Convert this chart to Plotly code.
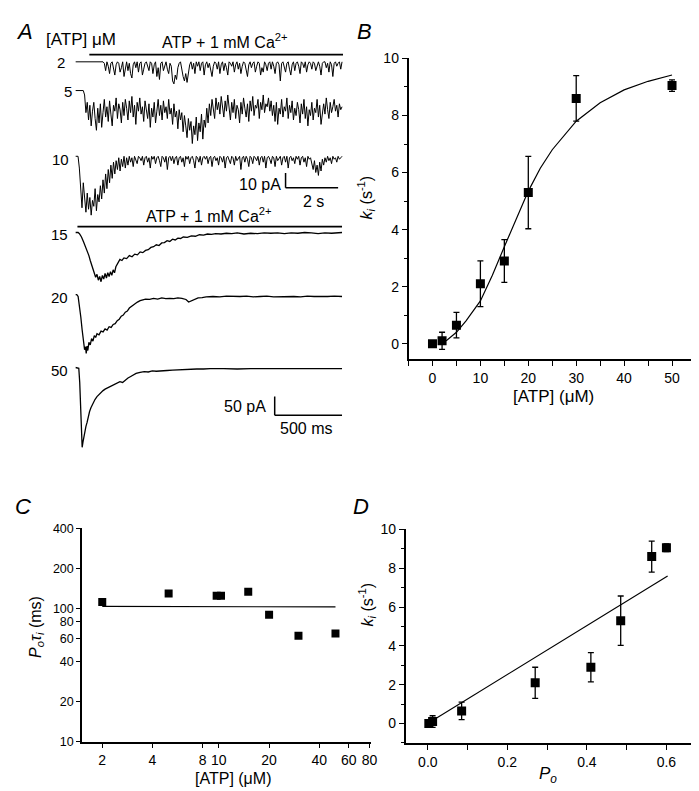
import numpy as np
import plotly.graph_objects as go

W, H = 699, 791
FONT = "Liberation Sans, Arial, sans-serif"

# ---------------- data ----------------
# Panel B / D : inactivation rate vs [ATP] and vs Po
atp = [0, 2, 5, 10, 15, 20, 30, 50]
ki = [0.0, 0.1, 0.65, 2.1, 2.9, 5.3, 8.6, 9.05]
ki_err = [0.05, 0.3, 0.45, 0.8, 0.75, 1.27, 0.8, 0.2]
fit_atp = [2, 3, 5, 7, 10, 12.5, 15, 17.5, 20, 22.5, 25, 30, 35, 40, 45, 50]
fit_ki = [0.05, 0.12, 0.4, 0.8, 1.5, 2.4, 3.4, 4.4, 5.35, 6.15, 6.8, 7.8, 8.45, 8.9, 9.2, 9.42]
po = [0.0025, 0.012, 0.085, 0.27, 0.41, 0.485, 0.563, 0.60]
lin_po = [0.013, 0.603]
lin_ki = [0.17, 7.6]

# Panel C : Po*tau_i vs [ATP]
c_atp = [2, 5, 9.7, 10.3, 15, 20, 30, 50]
c_potau = [112, 130, 125, 125, 134, 90, 62.5, 65]
c_line_atp = [2, 50]
c_line_val = [104, 103]

b_xticks = [0, 10, 20, 30, 40, 50]
c_xticks = [2, 4, 8, 10, 20, 40, 60, 80]
c_yticks = [10, 20, 40, 60, 80, 100, 200, 400]

# Panel A : current traces (pA), top traces sampled every 0.05 s
dt_top = 0.05
trace2 = [0, 0, 0, 0, 0, 0, 0, 0, 0, 0,
          0, 0, 0, 0, 0, 0, 0, 0, 0, 0,
          0, 0, -1, -6, 0, -3, -8, -1, 0, -5,
          -9, -2, 0, -1, -7, -4, 0, -10, -3, 0,
          -6, -1, -8, -11, -2, 0, -4, 0, -7, -1,
          0, -9, -5, -1, 0, -3, -6, 0, -1, -8,
          -2, 0, -10, -4, -12, -1, 0, -6, -2, 0,
          -5, -8, -1, -3, -13, -15, -9, -12, -4, -1,
          0, -7, -10, -13, -8, -14, -6, -2, 0, -5,
          -1, -8, 0, -3, 0, -6, -1, 0, -9, -2,
          0, -4, -1, -7, -10, -3, 0, -1, -5, 0,
          -8, -2, 0, -6, -1, -4, -9, 0, -1, -3,
          0, -7, -2, 0, -5, -1, -8, -3, 0, -1,
          -6, -10, -2, 0, -4, -1, 0, -7, -3, 0,
          -1, -9, -4, -7, 0, -2, -6, -1, 0, -5,
          0, -3, -8, -1, 0, -2, -13, -1, 0, -4,
          -7, -1, 0, -5, -9, -2, 0, -6, -1, 0,
          -3, -8, 0, -1, -4, 0, -7, -2, 0, -1,
          -5, 0, -1, -6, -2, 0, -3, -9, -1, 0,
          0, -4, -1, -7, 0, -2, -10, -1, 0, -3,
          -1, 0, -5, 0]
trace5 = [0, 0, 0, 0, 0, 0, 0, -3, -15, -8,
          -20, -10, -24, -14, -8, -19, -27, -12, -22, -9,
          -25, -15, -6, -18, -11, -21, -7, -16, -24, -10,
          -14, -5, -19, -9, -13, -22, -8, -17, -6, -12,
          -20, -7, -15, -4, -18, -10, -23, -8, -14, -5,
          -16, -11, -21, -7, -13, -19, -9, -25, -12, -18,
          -8, -22, -14, -6, -17, -10, -20, -7, -15, -11,
          -19, -6, -16, -12, -23, -9, -18, -14, -26, -13,
          -20, -15, -28, -17, -24, -32, -19, -27, -21, -36,
          -24, -30, -18, -34, -22, -28, -16, -33, -20, -25,
          -12, -22, -9, -17, -6, -14, -19, -5, -13, -8,
          -16, -4, -11, -18, -7, -14, -3, -12, -20, -8,
          -15, -6, -19, -10, -13, -22, -8, -16, -5, -12,
          -18, -9, -21, -7, -14, -4, -17, -10, -12, -6,
          -19, -8, -13, -3, -15, -9, -11, -5, -14, -7,
          -17, -10, -21, -8, -23, -12, -16, -6, -18, -11,
          -14, -5, -19, -10, -15, -7, -20, -12, -17, -8,
          -13, -22, -9, -16, -6, -19, -11, -24, -13, -17,
          -8, -20, -12, -15, -6, -18, -10, -23, -14, -9,
          -16, -5, -13, -19, -8, -15, -11, -6, -14, -10,
          -18, -9, -13, -11]
trace10 = [0, 0, 0, -8, -22, -35, -18, -30, -38, -25,
           -36, -28, -40, -30, -34, -22, -37, -26, -31, -20,
           -29, -16, -25, -12, -22, -9, -18, -6, -15, -4,
           -12, -3, -9, -1, -10, -2, -7, 0, -8, -1,
           -6, 0, -4, -1, -7, 0, -2, -5, 0, -1,
           -3, 0, -6, -1, 0, -4, -1, -8, 0, -2,
           0, -5, -1, 0, -3, -7, 0, -1, -4, 0,
           -9, -1, 0, -3, 0, -5, -1, 0, -6, -1,
           0, -4, -1, -7, 0, -2, 0, -5, -1, 0,
           -3, -8, 0, -1, -4, 0, -6, -1, 0, -2,
           0, -5, -1, 0, -7, -1, 0, -3, -1, -6,
           0, -1, -4, 0, -8, -1, 0, -2, -5, 0,
           -1, -6, 0, -3, -1, 0, -9, -1, 0, -4,
           0, -2, -7, 0, -1, -5, 0, -1, -3, 0,
           -6, -1, 0, -4, 0, -8, -1, 0, -2, -5,
           0, -1, -7, 0, -3, -1, 0, -6, -1, 0,
           -4, 0, -8, -1, 0, -3, -1, -5, 0, -2,
           0, -6, -1, 0, -4, -1, -7, 0, -2, -1,
           -5, -9, -3, -11, -6, -13, -4, -10, -2, -6,
           -1, -4, 0, -3, -1, -5, 0, -2, -1, -4,
           0, -2, -1, 0]

# bottom traces: time (ms), current (pA)
t15 = [0, 20, 30, 45, 60, 75, 90, 100, 110, 120, 130, 140, 150, 160, 170, 180, 190, 200, 210, 220,
       230, 240, 250, 260, 270, 280, 290, 300, 310, 320, 330, 345, 360, 380, 400, 420, 440, 460, 480, 500,
       520, 540, 560, 580, 600, 620, 640, 660, 680, 700, 720, 740, 760, 780, 800, 830, 860, 890, 920, 950,
       980, 1010, 1040, 1080, 1120, 1160, 1200, 1250, 1300, 1350, 1400, 1450, 1500, 1550, 1600, 1650, 1700,
       1750, 1800, 1850, 1900, 1978]
i15 = [0, 0, -3, -12, -25, -38, -50, -62, -75, -88, -100, -108, -120, -112, -128, -118, -132, -115, -125, -110,
       -122, -108, -118, -105, -115, -100, -108, -92, -85, -78, -72, -75, -68, -70, -62, -65, -58, -60, -52, -54,
       -48, -46, -40, -38, -33, -35, -28, -27, -22, -24, -18, -20, -15, -16, -12, -13, -9, -10, -6, -7,
       -4, -5, -3, -4, -2, -3, -1, -4, -2, -3, -1, -2, -1, -3, -1, -2, 0,
       -1, -3, -1, -2, 0]
t20 = [0, 10, 20, 30, 40, 50, 60, 68, 75, 80, 86, 92, 100, 110, 120, 130, 140, 150, 160, 175,
       190, 205, 220, 235, 250, 265, 280, 295, 310, 325, 340, 355, 370, 385, 400, 420, 440, 460, 480, 500,
       520, 550, 580, 610, 640, 670, 700, 730, 760, 790, 820, 840, 860, 880, 910, 940, 970, 1020, 1070, 1120,
       1170, 1220, 1270, 1320, 1370, 1420, 1470, 1520, 1570, 1620, 1670, 1720, 1770, 1820, 1870, 1920, 1978]
i20 = [0, 0, -5, -30, -60, -95, -125, -148, -140, -158, -138, -150, -128, -135, -118, -125, -110, -115, -105, -108,
       -98, -100, -92, -95, -86, -88, -80, -78, -70, -66, -58, -55, -47, -44, -36, -30, -24, -20, -16, -14,
       -12, -13, -10, -12, -9, -11, -10, -11, -9, -10, -13, -20, -17, -12, -9, -8, -6, -5, -6, -4,
       -5, -5, -4, -6, -5, -4, -6, -5, -4, -5, -6, -4, -5, -6, -5, -4, -5]
t50 = [0, 15, 25, 32, 38, 44, 50, 56, 62, 70, 78, 86, 95, 105, 115, 125, 135, 145, 160, 175,
       190, 205, 220, 235, 250, 270, 290, 310, 330, 350, 370, 390, 410, 430, 450, 480, 510, 540, 570, 600,
       640, 680, 720, 760, 800, 850, 900, 950, 1000, 1100, 1200, 1300, 1400, 1500, 1600, 1700, 1800, 1900, 1978]
i50 = [0, 0, -2, -40, -120, -190, -214, -200, -185, -170, -158, -148, -132, -118, -108, -100, -92, -86, -78, -72,
       -68, -62, -58, -55, -52, -48, -45, -42, -38, -40, -33, -28, -24, -20, -16, -13, -11, -12, -9, -10,
       -8, -8, -7, -6, -6, -5, -4, -4, -3, -3, -4, -3, -3, -4, -3, -3, -4, -3, -3]

top_labels = ["2", "5", "10"]
bottom_labels = ["15", "20", "50"]
bar_top = (10, 2)      # 10 pA, 2 s
bar_bot = (50, 500)    # 50 pA, 500 ms


# ---------------- helpers ----------------
def xdom(a, b):
    return [a / W, b / W]


def ydom(top, bottom):
    return [1 - bottom / H, 1 - top / H]


def trace_ydom(base_px, px_per_pa, lo, hi):
    return ydom(base_px - hi * px_per_pa, base_px - lo * px_per_pa)


def ann(text, x, y, size=16, xanchor="center", yanchor="middle", angle=0):
    return dict(text=text, x=x / W, y=1 - y / H, xref="paper", yref="paper",
                showarrow=False, xanchor=xanchor, yanchor=yanchor, textangle=angle,
                font=dict(family=FONT, size=size, color="black"))


fig = go.Figure()
BLK = "black"

# ---- Panel B ----
fig.add_trace(go.Scatter(x=fit_atp, y=fit_ki, mode="lines", line=dict(color=BLK, width=1.2),
                         xaxis="x", yaxis="y", showlegend=False))
fig.add_trace(go.Scatter(x=atp, y=ki, mode="markers",
                         marker=dict(symbol="square", size=9, color=BLK),
                         error_y=dict(type="data", array=ki_err, color=BLK, thickness=1.3, width=3),
                         xaxis="x", yaxis="y", showlegend=False))

# ---- Panel C ----
fig.add_trace(go.Scatter(x=c_line_atp, y=c_line_val, mode="lines", line=dict(color=BLK, width=1.2),
                         xaxis="x2", yaxis="y2", showlegend=False))
fig.add_trace(go.Scatter(x=c_atp, y=c_potau, mode="markers",
                         marker=dict(symbol="square", size=8, color=BLK),
                         xaxis="x2", yaxis="y2", showlegend=False))

# ---- Panel D ----
fig.add_trace(go.Scatter(x=lin_po, y=lin_ki, mode="lines", line=dict(color=BLK, width=1.2),
                         xaxis="x3", yaxis="y3", showlegend=False))
fig.add_trace(go.Scatter(x=po, y=ki, mode="markers",
                         marker=dict(symbol="square", size=9, color=BLK),
                         error_y=dict(type="data", array=ki_err, color=BLK, thickness=1.3, width=3),
                         xaxis="x3", yaxis="y3", showlegend=False))

# ---- Panel A traces ----
for arr, ya in zip([trace2, trace5, trace10], ["y4", "y5", "y6"]):
    t = np.arange(len(arr)) * dt_top
    fig.add_trace(go.Scatter(x=t, y=arr, mode="lines", line=dict(color=BLK, width=1),
                             xaxis="x4", yaxis=ya, showlegend=False))
for tt, arr, ya in zip([t15, t20, t50], [i15, i20, i50], ["y7", "y8", "y9"]):
    fig.add_trace(go.Scatter(x=tt, y=arr, mode="lines", line=dict(color=BLK, width=1.3),
                             xaxis="x5", yaxis=ya, showlegend=False))

axis_common = dict(showline=True, linecolor=BLK, linewidth=1.6, ticks="outside", ticklen=5,
                   tickwidth=1.2, tickcolor=BLK, showgrid=False, zeroline=False,
                   tickfont=dict(family=FONT, size=14, color=BLK))
hidden = dict(visible=False, showgrid=False, zeroline=False, fixedrange=True)

TOP_S = 1.5     # px per pA (top traces)
BOT_S = 0.38    # px per pA (bottom traces)

fig.update_layout(
    width=W, height=H, margin=dict(l=0, r=0, t=0, b=0), autosize=False,
    paper_bgcolor="white", plot_bgcolor="rgba(0,0,0,0)",
    font=dict(family=FONT, color=BLK, size=14),
    xaxis=dict(axis_common, domain=xdom(404, 692), range=[-5, 54.6], anchor="y",
               tickvals=b_xticks, ticktext=[str(v) for v in b_xticks],
               minor=dict(dtick=5, tick0=0, ticklen=5, ticks="outside", tickcolor=BLK, tickwidth=1.2)),
    yaxis=dict(axis_common, domain=ydom(43.3, 350), range=[-0.55, 10], anchor="x",
               dtick=2, tick0=0,
               minor=dict(dtick=1, tick0=0, ticklen=3, ticks="outside", tickcolor=BLK, tickwidth=1.2)),
    xaxis2=dict(axis_common, domain=xdom(74.7, 366.5), type="log", range=[0.18, 1.914], anchor="y2",
                tickvals=c_xticks, ticktext=[str(v) for v in c_xticks], ticklen=4),
    yaxis2=dict(axis_common, domain=ydom(522.3, 740), type="log", range=[1, np.log10(400)], anchor="x2",
                tickvals=c_yticks, ticktext=[str(v) for v in c_yticks],
                tickfont=dict(family=FONT, size=12.5, color=BLK), ticklen=4),
    xaxis3=dict(axis_common, domain=xdom(401, 691), range=[-0.056, 0.667], anchor="y3",
                dtick=0.2, tick0=0, tickformat=".1f",
                minor=dict(dtick=0.1, tick0=0, ticklen=5, ticks="outside", tickcolor=BLK, tickwidth=1.2)),
    yaxis3=dict(axis_common, domain=ydom(523.3, 741), range=[-1.0, 10], anchor="x3",
                dtick=2, tick0=0,
                minor=dict(dtick=1, tick0=0, ticklen=3, ticks="outside", tickcolor=BLK, tickwidth=1.2)),
    xaxis4=dict(hidden, domain=xdom(68, 338), range=[0, 10.19], anchor="y4"),
    yaxis4=dict(hidden, domain=trace_ydom(46.7, TOP_S, -45, 5), range=[-45, 5], anchor="x4"),
    yaxis5=dict(hidden, domain=trace_ydom(76, TOP_S, -45, 5), range=[-45, 5], anchor="x4"),
    yaxis6=dict(hidden, domain=trace_ydom(143, TOP_S, -45, 5), range=[-45, 5], anchor="x4"),
    xaxis5=dict(hidden, domain=xdom(68, 337), range=[0, 1978], anchor="y7"),
    yaxis7=dict(hidden, domain=trace_ydom(220.7, BOT_S, -240, 20), range=[-240, 20], anchor="x5"),
    yaxis8=dict(hidden, domain=trace_ydom(284, BOT_S, -240, 20), range=[-240, 20], anchor="x5"),
    yaxis9=dict(hidden, domain=trace_ydom(358.3, BOT_S, -240, 20), range=[-240, 20], anchor="x5"),
)

# ---- shapes: application bars and scale bars ----
shapes = [
    dict(type="line", xref="x4", yref="paper", x0=0.53, x1=10.19, y0=1 - 39.3 / H, y1=1 - 39.3 / H,
         line=dict(color=BLK, width=1.8)),
    dict(type="line", xref="x5", yref="paper", x0=15, x1=1978, y0=1 - 214.7 / H, y1=1 - 214.7 / H,
         line=dict(color=BLK, width=1.8)),
]
# top scale bar (on trace 10 axes)
sb_x, sb_y = 8.0, -11.3
shapes += [
    dict(type="line", xref="x4", yref="y6", x0=sb_x, x1=sb_x, y0=sb_y, y1=sb_y - bar_top[0],
         line=dict(color=BLK, width=1.5)),
    dict(type="line", xref="x4", yref="y6", x0=sb_x, x1=sb_x + bar_top[1], y0=sb_y - bar_top[0],
         y1=sb_y - bar_top[0], line=dict(color=BLK, width=1.5)),
]
# bottom scale bar (on trace 50 axes)
sb2_x, sb2_y = 1478, -78
shapes += [
    dict(type="line", xref="x5", yref="y9", x0=sb2_x, x1=sb2_x, y0=sb2_y, y1=sb2_y - bar_bot[0],
         line=dict(color=BLK, width=1.5)),
    dict(type="line", xref="x5", yref="y9", x0=sb2_x, x1=sb2_x + bar_bot[1], y0=sb2_y - bar_bot[0],
         y1=sb2_y - bar_bot[0], line=dict(color=BLK, width=1.5)),
]
fig.update_layout(shapes=shapes)

annotations = [
    ann("<i>A</i>", 17, 16, size=22),
    ann("<i>B</i>", 360, 16, size=22),
    ann("<i>C</i>", 15, 500, size=22),
    ann("<i>D</i>", 356, 500, size=22),
    ann("[ATP] μM", 74, 24, size=17),
    ann("ATP + 1 mM Ca<sup>2+</sup>", 219, 25, size=16),
    ann("ATP + 1 mM Ca<sup>2+</sup>", 203, 203, size=16),
    ann(top_labels[0], 60, 47, size=15, xanchor="right"),
    ann(top_labels[1], 67, 77, size=15, xanchor="right"),
    ann(top_labels[2], 64, 146, size=15, xanchor="right"),
    ann(bottom_labels[0], 63, 223, size=15, xanchor="right"),
    ann(bottom_labels[1], 63, 287, size=15, xanchor="right"),
    ann(bottom_labels[2], 63, 361, size=15, xanchor="right"),
    ann("%d pA" % bar_top[0], 277, 172, size=16, xanchor="right"),
    ann("%d s" % bar_top[1], 308, 189, size=16),
    ann("%d pA" % bar_bot[0], 262, 398, size=16, xanchor="right"),
    ann("%d ms" % bar_bot[1], 301, 420, size=16),
    # axis titles
    ann("[ATP] (μM)", 550, 388, size=17),
    ann("<i>k<sub>i</sub></i> (s<sup>-1</sup>)", 362, 185, size=16, angle=-90),
    ann("[ATP] (μM)", 227, 777, size=16),
    ann("<i>P<sub>o</sub>τ<sub>i</sub></i> (ms)", 28, 623, size=16, angle=-90),
    ann("<i>P<sub>o</sub></i>", 545, 774, size=17),
    ann("<i>k<sub>i</sub></i> (s<sup>-1</sup>)", 362, 600, size=16, angle=-90),
]
fig.update_layout(annotations=annotations)

fig.write_html("out.html")
